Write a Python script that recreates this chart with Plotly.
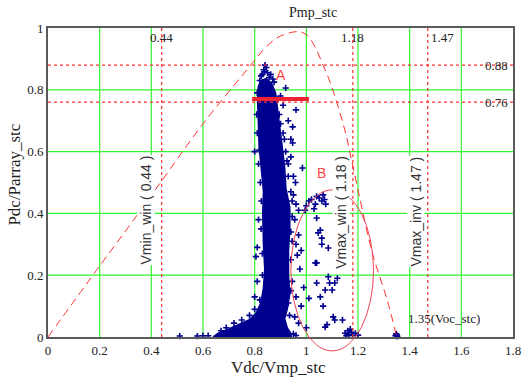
import plotly.graph_objects as go

# ---------------- data ----------------
# P-V curve (red dashed)
pv_x = [0.0, 0.2, 0.35, 0.434, 0.6, 0.795, 0.84, 0.90, 0.99, 1.073, 1.149, 1.168, 1.2, 1.256, 1.313, 1.35]
pv_y = [0.0, 0.23, 0.40, 0.498, 0.69, 0.89, 0.935, 0.974, 0.984, 0.864, 0.67, 0.60, 0.476, 0.27, 0.12, 0.0]

# dense operating-point cloud outline
cloud_x = [0.64, 0.66, 0.70, 0.74, 0.78, 0.805, 0.825, 0.835, 0.84, 0.835, 0.832, 0.835, 0.825, 0.818,
           0.815, 0.812, 0.815, 0.825, 0.845, 0.865, 0.88, 0.888, 0.895, 0.905, 0.915, 0.92, 0.935,
           0.935, 0.93, 0.93, 0.935, 0.925, 0.915, 0.925, 0.94, 0.94]
cloud_y = [0.0, 0.012, 0.025, 0.04, 0.055, 0.075, 0.11, 0.16, 0.22, 0.30, 0.40, 0.47, 0.55, 0.62,
           0.70, 0.77, 0.81, 0.83, 0.835, 0.82, 0.79, 0.74, 0.68, 0.62, 0.55, 0.48, 0.42,
           0.35, 0.28, 0.20, 0.14, 0.09, 0.06, 0.03, 0.01, 0.0]

# scattered operating points
pts_x = [0.837, 0.856, 0.845, 0.83, 0.82, 0.875, 0.92, 0.90, 0.91, 0.96, 0.93, 0.947, 0.91, 0.94, 0.947,
         0.94, 0.93, 0.985, 0.95, 0.958, 0.818, 0.80,
         0.95, 0.96, 0.97, 0.955, 0.97, 0.96, 0.98, 0.965, 0.975, 0.99, 0.96, 0.98, 0.955, 1.0, 0.97,
         0.805, 0.80, 0.81, 0.815, 0.81,
         1.01, 1.02, 1.035, 1.05, 1.06, 1.07, 1.04, 1.0, 0.995, 1.03, 1.065, 1.075,
         1.04, 1.054, 1.046, 1.06, 1.06, 1.085, 1.035, 1.04, 1.085, 1.12, 1.04, 1.09, 1.11, 1.073, 1.1,
         1.054, 1.01, 1.065, 1.104, 1.11, 1.14, 1.08, 1.073,
         1.15, 1.16, 1.165, 1.175, 1.18, 1.19, 1.2, 1.17, 1.155,
         1.345, 1.35, 1.352, 1.348,
         0.51, 0.578, 0.60, 0.62, 0.95, 0.96,
         0.89, 0.895, 0.90, 0.915, 0.92, 0.925, 0.93, 0.94, 0.945, 0.945, 0.94, 0.945, 0.94, 0.945, 0.94,
         0.93, 0.935,
         0.81, 0.808, 0.81, 0.815, 0.822, 0.826, 0.825, 0.83, 0.83, 0.82, 0.80, 0.78, 0.75, 0.72, 0.69, 0.67,
         0.825, 0.835, 0.85, 0.862, 0.87, 0.84]
pts_y = [0.858, 0.84, 0.872, 0.85, 0.83, 0.825, 0.806, 0.78, 0.75, 0.735, 0.70, 0.68, 0.66, 0.64, 0.628,
         0.583, 0.56, 0.547, 0.52, 0.50, 0.605, 0.60,
         0.46, 0.43, 0.41, 0.38, 0.33, 0.30, 0.28, 0.265, 0.22, 0.16, 0.13, 0.10, 0.065, 0.03, 0.045,
         0.26, 0.13, 0.29, 0.38, 0.18,
         0.44, 0.445, 0.43, 0.45, 0.44, 0.445, 0.455, 0.425, 0.41, 0.415, 0.46, 0.43,
         0.385, 0.346, 0.337, 0.32, 0.30, 0.288, 0.24, 0.24, 0.195, 0.19, 0.175, 0.175, 0.175, 0.152, 0.152,
         0.13, 0.125, 0.10, 0.065, 0.055, 0.055, 0.04, 0.032,
         0.012, 0.02, 0.008, 0.015, 0.005, 0.012, 0.006, 0.025, 0.004,
         0.004, 0.006, 0.002, 0.01,
         0.003, 0.003, 0.004, 0.004, 0.01, 0.005,
         0.77, 0.72, 0.69, 0.64, 0.60, 0.57, 0.52, 0.47, 0.44, 0.39, 0.34, 0.31, 0.25, 0.18, 0.15,
         0.11, 0.07,
         0.79, 0.72, 0.66, 0.56, 0.50, 0.44, 0.35, 0.27, 0.20, 0.12, 0.09, 0.07, 0.055, 0.045, 0.03, 0.02,
         0.845, 0.865, 0.855, 0.85, 0.835, 0.88]

# reference limits
v_lines = [0.44, 1.18, 1.47]
h_lines = [0.88, 0.76]
a_line_x = [0.79, 1.01]
a_line_y = 0.77

x_ticks = [0, 0.2, 0.4, 0.6, 0.8, 1.0, 1.2, 1.4, 1.6, 1.8]
x_tick_text = ["0", "0.2", "0.4", "0.6", "0.8", "1", "1.2", "1.4", "1.6", "1.8"]
y_ticks = [0, 0.2, 0.4, 0.6, 0.8, 1.0]
y_tick_text = ["0", "0.2", "0.4", "0.6", "0.8", "1"]

NAVY = "#000090"
RED = "#ff3030"
GREEN = "#33f533"
SERIF = "Liberation Serif"
SANS = "Liberation Sans"

fig = go.Figure()

fig.add_trace(go.Scatter(x=cloud_x, y=cloud_y, mode="lines", fill="toself",
                         fillcolor=NAVY, line=dict(color=NAVY, width=2),
                         hoverinfo="skip", showlegend=False))
fig.add_trace(go.Scatter(x=pts_x, y=pts_y, mode="markers",
                         marker=dict(symbol="cross-thin", size=4.5, color=NAVY,
                                     line=dict(width=1.6, color=NAVY)),
                         showlegend=False, cliponaxis=False))
fig.add_trace(go.Scatter(x=pv_x, y=pv_y, mode="lines",
                         line=dict(color=RED, width=1, dash="8px,5px"),
                         line_shape="spline", showlegend=False))
fig.add_trace(go.Scatter(x=a_line_x, y=[a_line_y, a_line_y], mode="lines",
                         line=dict(color="#ee2233", width=4), showlegend=False))

shapes = []
# grid lines
for t in x_ticks[1:-1]:
    shapes.append(dict(type="line", xref="x", yref="paper", x0=t, x1=t, y0=0, y1=1, layer="below",
                       line=dict(color=GREEN, width=1.2)))
for t in y_ticks[1:-1]:
    shapes.append(dict(type="line", xref="paper", yref="y", x0=0, x1=1, y0=t, y1=t, layer="below",
                       line=dict(color=GREEN, width=1.2)))
for v in v_lines:
    shapes.append(dict(type="line", xref="x", yref="paper", x0=v, x1=v, y0=0, y1=1,
                       line=dict(color=RED, width=1.2, dash="dot")))
for h in h_lines:
    shapes.append(dict(type="line", xref="paper", yref="y", x0=0, x1=1, y0=h, y1=h,
                       line=dict(color=RED, width=1.2, dash="dot")))
# ellipse B
shapes.append(dict(type="circle", xref="x", yref="paper", x0=0.94, x1=1.26, y0=-0.045, y1=0.476,
                   line=dict(color="#ee4455", width=1)))
fig.update_layout(shapes=shapes)

ann = []
tf = dict(family=SERIF, size=13, color="#222222")
def A(**kw):
    d = dict(showarrow=False, xanchor="center", yanchor="middle")
    d.update(kw)
    ann.append(d)

A(x=0.44, y=0.968, xref="x", yref="y", text="0.44", font=tf)
A(x=1.18, y=0.968, xref="x", yref="y", text="1.18", font=tf)
A(x=1.475, y=0.968, xref="x", yref="y", text="1.47", font=tf, xanchor="left")
A(x=0.994, y=0.88, xref="paper", yref="y", text="0.88", font=tf, xanchor="right")
A(x=0.994, y=0.76, xref="paper", yref="y", text="0.76", font=tf, xanchor="right")
A(x=1.534, y=0.06, xref="x", yref="y", text="1.35(Voc_stc)", font=tf)
A(x=0.57, y=1.019, xref="paper", yref="paper", text="Pmp_stc", yanchor="bottom",
  font=dict(family=SERIF, size=14, color="#222222"))
rf = dict(family=SANS, size=14, color="#333333")
A(x=0.38, y=0.41, xref="x", yref="y", text="Vmin_win ( 0.44 )", textangle=-90,
  font=rf, bgcolor="white", borderpad=0)
A(x=1.134, y=0.405, xref="x", yref="y", text="Vmax_win ( 1.18 )", textangle=-90,
  font=rf, bgcolor="white", borderpad=0)
A(x=1.423, y=0.405, xref="x", yref="y", text="Vmax_inv ( 1.47 )", textangle=-90,
  font=rf, bgcolor="white", borderpad=0)
A(x=0.90, y=0.848, xref="x", yref="y", text="A", font=dict(family=SANS, size=14, color="#ff4444"))
A(x=1.06, y=0.53, xref="x", yref="y", text="B", font=dict(family=SANS, size=14, color="#ff4444"))
A(x=0.495, y=-0.1, xref="paper", yref="paper", text="Vdc/Vmp_stc",
  font=dict(family=SERIF, size=17, color="#222222"))
A(x=-0.072, y=0.524, xref="paper", yref="paper", text="Pdc/Parray_stc", textangle=-90,
  font=dict(family=SERIF, size=17, color="#222222"))
fig.update_layout(annotations=ann)

fig.update_xaxes(range=[0, 1.8], tickvals=x_ticks, ticktext=x_tick_text, showgrid=False,
                 zeroline=False, showline=True, linecolor="#5a5a5a",
                 linewidth=1.8, mirror=True, ticks="", tickfont=tf)
fig.update_yaxes(range=[0, 1.0], tickvals=y_ticks, ticktext=y_tick_text, showgrid=False,
                 zeroline=False, showline=True, linecolor="#5a5a5a",
                 linewidth=1.8, mirror=True, ticks="", tickfont=tf)

fig.update_layout(width=531, height=385, margin=dict(l=48, r=10, t=28, b=48),
                  plot_bgcolor="white", paper_bgcolor="white", showlegend=False)

fig.write_html("out.html")
